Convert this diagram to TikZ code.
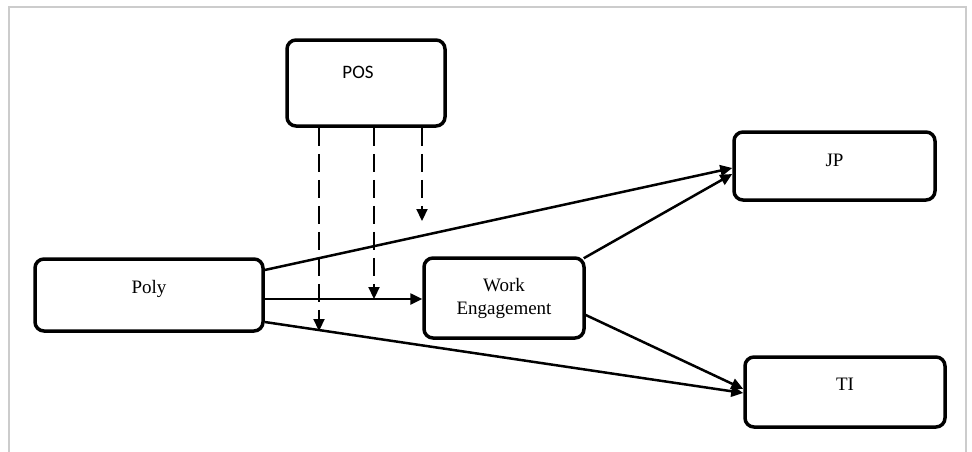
\documentclass[tikz,border=0pt]{standalone}
\usepackage{fontspec}
\setmainfont{Liberation Serif}
\newfontfamily\calib{Carlito}
\usetikzlibrary{arrows.meta,calc}
\begin{document}
\begin{tikzpicture}[x=1pt,y=-1pt,
  box/.style={draw=black,line width=3.5pt,rounded corners=9pt,fill=white,inner sep=0pt,
    font=\fontsize{19}{23}\selectfont,align=center},
  arr/.style={line width=2.5pt,-{Triangle[length=12pt,width=11pt]}},
  darr/.style={line width=2.2pt,dash pattern=on 18pt off 8pt,-{Triangle[length=12pt,width=11pt]}}]
\useasboundingbox (0,0) rectangle (972,451);
\draw[line width=2pt,draw=black!20] (9,460) -- (9,7) -- (966,7) -- (966,460);

\node[box,minimum width=158pt,minimum height=86pt,text height=11pt,text depth=21pt,
  font=\calib\fontsize{19}{23}\selectfont] (pos) at (366,83) {POS\hspace{16pt}};
\node[box,minimum width=228pt,minimum height=72pt,text height=13pt,text depth=17pt] (poly) at (149,295) {Poly};
\node[box,minimum width=160pt,minimum height=80pt] (we) at (504,298) {Work\\Engagement};
\node[box,minimum width=201pt,minimum height=68pt,text height=13pt,text depth=13pt] (jp) at (834.5,166) {JP};
\node[box,minimum width=200pt,minimum height=70pt,text height=13pt,text depth=17pt] (ti) at (845,392) {TI};

\coordinate (p1) at ([yshift=25pt]poly.east);
\coordinate (p2) at ([yshift=-4pt]poly.east);
\coordinate (p3) at ([yshift=-27pt]poly.east);
\coordinate (jp1) at ([yshift=-2pt]jp.west);
\coordinate (jp2) at ([yshift=-8pt]jp.west);
\coordinate (ti1) at ([yshift=3pt]ti.west);
\coordinate (ti2) at ([yshift=-1pt]ti.west);
\coordinate (w1) at ([xshift=-2pt,yshift=-2pt]we.north east);
\coordinate (w2) at ([yshift=-17pt]we.east);

\draw[arr] (p1) -- (jp1);
\draw[arr] (p2) -- (p2 -| we.west);
\draw[arr] (p3) -- (ti2);
\draw[arr] (w1) -- (jp2);
\draw[arr] (w2) -- (ti1);

\coordinate (d1) at ([xshift=-47pt]pos.south);
\coordinate (d2) at ([xshift=8pt]pos.south);
\coordinate (d3) at ([xshift=56pt]pos.south);
\coordinate (e1) at (319,331);
\coordinate (e3) at (422,221);
\draw[darr] (d1) -- (e1);
\draw[darr] (d2) -- (d2 |- p2);
\draw[darr] (d3) -- (e3);
\end{tikzpicture}
\end{document}
